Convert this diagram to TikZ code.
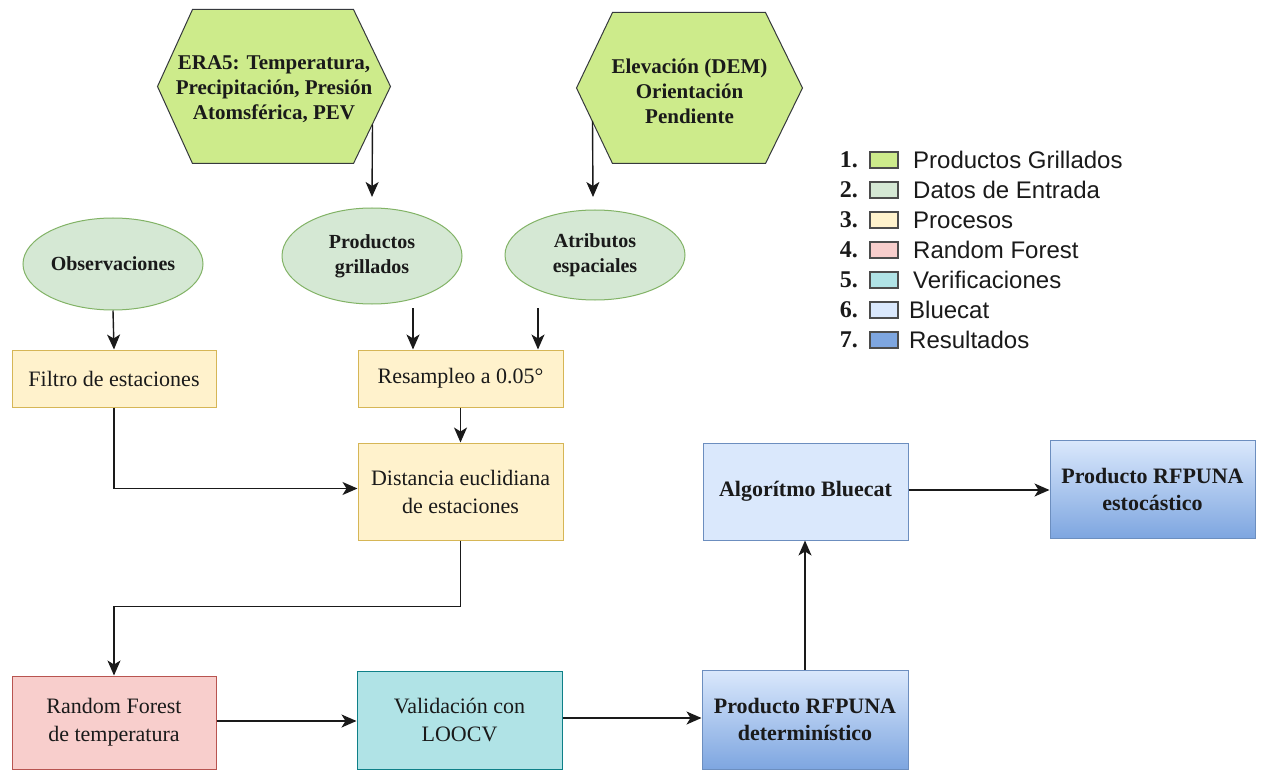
\documentclass[tikz,border=0pt]{standalone}
\usepackage{fontspec}
\setmainfont{Liberation Serif}
\newfontfamily\legendfont{Liberation Sans}
\usetikzlibrary{arrows.meta,calc,backgrounds,shapes.geometric}
\definecolor{hexfill}{HTML}{CDEB8B}
\definecolor{hexline}{HTML}{36393D}
\definecolor{ellfill}{HTML}{D5E8D4}
\definecolor{ellline}{HTML}{82B366}
\definecolor{procfill}{HTML}{FFF2CC}
\definecolor{procline}{HTML}{D6B656}
\definecolor{rffill}{HTML}{F8CECC}
\definecolor{rfline}{HTML}{B85450}
\definecolor{verfill}{HTML}{B0E3E6}
\definecolor{verline}{HTML}{0E8088}
\definecolor{bcfill}{HTML}{DAE8FC}
\definecolor{bcline}{HTML}{6C8EBF}
\definecolor{resdark}{HTML}{7EA6E0}
\definecolor{txt}{HTML}{1A1A1A}
\definecolor{arrcol}{HTML}{1A1A1A}
\tikzset{
  basebox/.style={line width=1pt, inner sep=0pt, align=center, text=txt},
  boldtxt/.style={font=\bfseries\fontsize{22}{27}\selectfont},
  normtxt/.style={font=\fontsize{22}{28}\selectfont},
  proc/.style={basebox, normtxt, draw=procline, fill=procfill},
  rfbox/.style={basebox, normtxt, draw=rfline, fill=rffill},
  verbox/.style={basebox, normtxt, draw=verline, fill=verfill},
  bcbox/.style={basebox, boldtxt, draw=bcline, fill=bcfill},
  resbox/.style={basebox, boldtxt, draw=bcline, top color=bcfill, bottom color=resdark},
  ell/.style={ellipse, basebox, draw=ellline, fill=ellfill, font=\bfseries\fontsize{20}{25}\selectfont},
  hexnode/.style={basebox},
  hextext/.style={basebox, font=\bfseries\fontsize{21}{25}\selectfont},
  hexshape/.style={draw=hexline, fill=hexfill, line width=1pt, line join=miter},
  arr/.style={draw=arrcol, line width=1.4pt, -{Stealth[length=15pt,width=13pt,inset=4pt]}},
  legsq/.style={draw=black!70, line width=1.5pt, minimum width=28pt, minimum height=16pt, inner sep=0pt},
  legnum/.style={anchor=east, inner sep=0pt, text=txt, font=\bfseries\fontsize{24}{28}\selectfont},
  legtxt/.style={anchor=west, inner sep=0pt, text=txt, font=\legendfont\fontsize{24}{28}\selectfont},
}
\begin{document}
\begin{tikzpicture}[x=1pt,y=-1pt]
\useasboundingbox (0,0) rectangle (1264,770);

% hexagons
\node[hexnode, minimum width=232pt, minimum height=153pt] (era5) at (274,86.5) {};
\node[hexnode, minimum width=225pt, minimum height=150pt] (dem) at (689.5,88) {};
\begin{scope}[on background layer]
\fill[white] (0,0) rectangle (1264,770);
\filldraw[hexshape] (era5.west) -- ([xshift=35pt]era5.north west) -- ([xshift=-37pt]era5.north east)
  -- (era5.east) -- ([xshift=-37pt]era5.south east) -- ([xshift=35pt]era5.south west) -- cycle;
\filldraw[hexshape] (dem.west) -- ([xshift=36pt]dem.north west) -- ([xshift=-37pt]dem.north east)
  -- (dem.east) -- ([xshift=-37pt]dem.south east) -- ([xshift=36pt]dem.south west) -- cycle;
\end{scope}
\node[hextext] (era5txt) at ([yshift=-3pt]era5.center) {ERA5: Temperatura,\\Precipitación, Presión\\Atomsférica, PEV};
\node[hextext] (demtxt) at ([yshift=-3pt]dem.center) {Elevación (DEM)\\Orientación\\Pendiente};

% ellipses
\node[ell, minimum width=180pt, minimum height=92pt] (obs) at (113,264) {Observaciones};
\node[ell, minimum width=180pt, minimum height=96pt] (prod) at (372,256) {Productos\\grillados};
\node[ell, minimum width=180pt, minimum height=90pt] (atr) at (595,255) {Atributos\\espaciales};

% boxes
\node[proc, minimum width=204pt, minimum height=57pt] (filtro) at (114,378.5) {Filtro de estaciones};
\node[proc, minimum width=205pt, minimum height=57pt] (resam) at (460.5,378.5) {Resampleo a 0.05°};
\node[proc, minimum width=205pt, minimum height=97pt] (dist) at (460.5,491.5) {Distancia euclidiana\\de estaciones};
\node[rfbox, minimum width=204pt, minimum height=93pt] (rf) at (114,722.5) {Random Forest\\de temperatura};
\node[verbox, minimum width=205pt, minimum height=98pt] (val) at (459.5,720) {Validación con\\LOOCV};
\node[resbox, minimum width=206pt, minimum height=99pt] (det) at (805,719.5) {Producto RFPUNA\\determinístico};
\node[bcbox, minimum width=205pt, minimum height=97pt] (bc) at (805.5,491.5) {Algorítmo Bluecat};
\node[resbox, minimum width=205pt, minimum height=98pt] (est) at (1152.5,489) {Producto RFPUNA\\estocástico};

% free ends
\coordinate (era5end) at (372,197);
\coordinate (demend) at (593,197);
\coordinate (prodstart) at (413,308);
\coordinate (atrstart) at (538,308);

% connectors
\draw[arr] ([xshift=-18pt,yshift=-38pt]era5.east) -- (era5end);
\draw[arr] ([xshift=16pt,yshift=-33pt]dem.west) -- (demend);
\draw[arr] (obs.south) -- (filtro.north);
\draw[arr] (prodstart) -- (prodstart |- resam.north);
\draw[arr] (atrstart) -- (atrstart |- resam.north);
\draw[arr] (resam.south) -- (dist.north);
\draw[arr] (filtro.south) |- ([yshift=3pt]dist.west);
\draw[arr] (dist.south) -- ++(0,66) -| (rf.north);
\draw[arr] ([yshift=1.5pt]rf.east) -- ([yshift=1.5pt]rf.east -| val.west);
\draw[arr] ([yshift=2pt]val.east) -- ([yshift=2pt]val.east -| det.west);
\draw[arr] (det.north) -- (det.north |- bc.south);
\draw[arr] ([yshift=1.5pt]bc.east) -- ([yshift=1.5pt]bc.east -| est.west);

% legend
\foreach \i/\col/\lab/\tx in {1/hexfill/Productos Grillados/913, 2/ellfill/Datos de Entrada/913, 3/procfill/Procesos/913, 4/rffill/Random Forest/913, 5/verfill/Verificaciones/913, 6/bcfill/Bluecat/909, 7/resdark/Resultados/909}{
  \node[legnum] (ln\i) at (858,{130+30*\i}) {\i.};
  \node[legsq, fill=\col] (ls\i) at (884,{130+30*\i}) {};
  \node[legtxt] (lt\i) at (\tx,{130+30*\i}) {\lab};
}
\end{tikzpicture}
\end{document}
